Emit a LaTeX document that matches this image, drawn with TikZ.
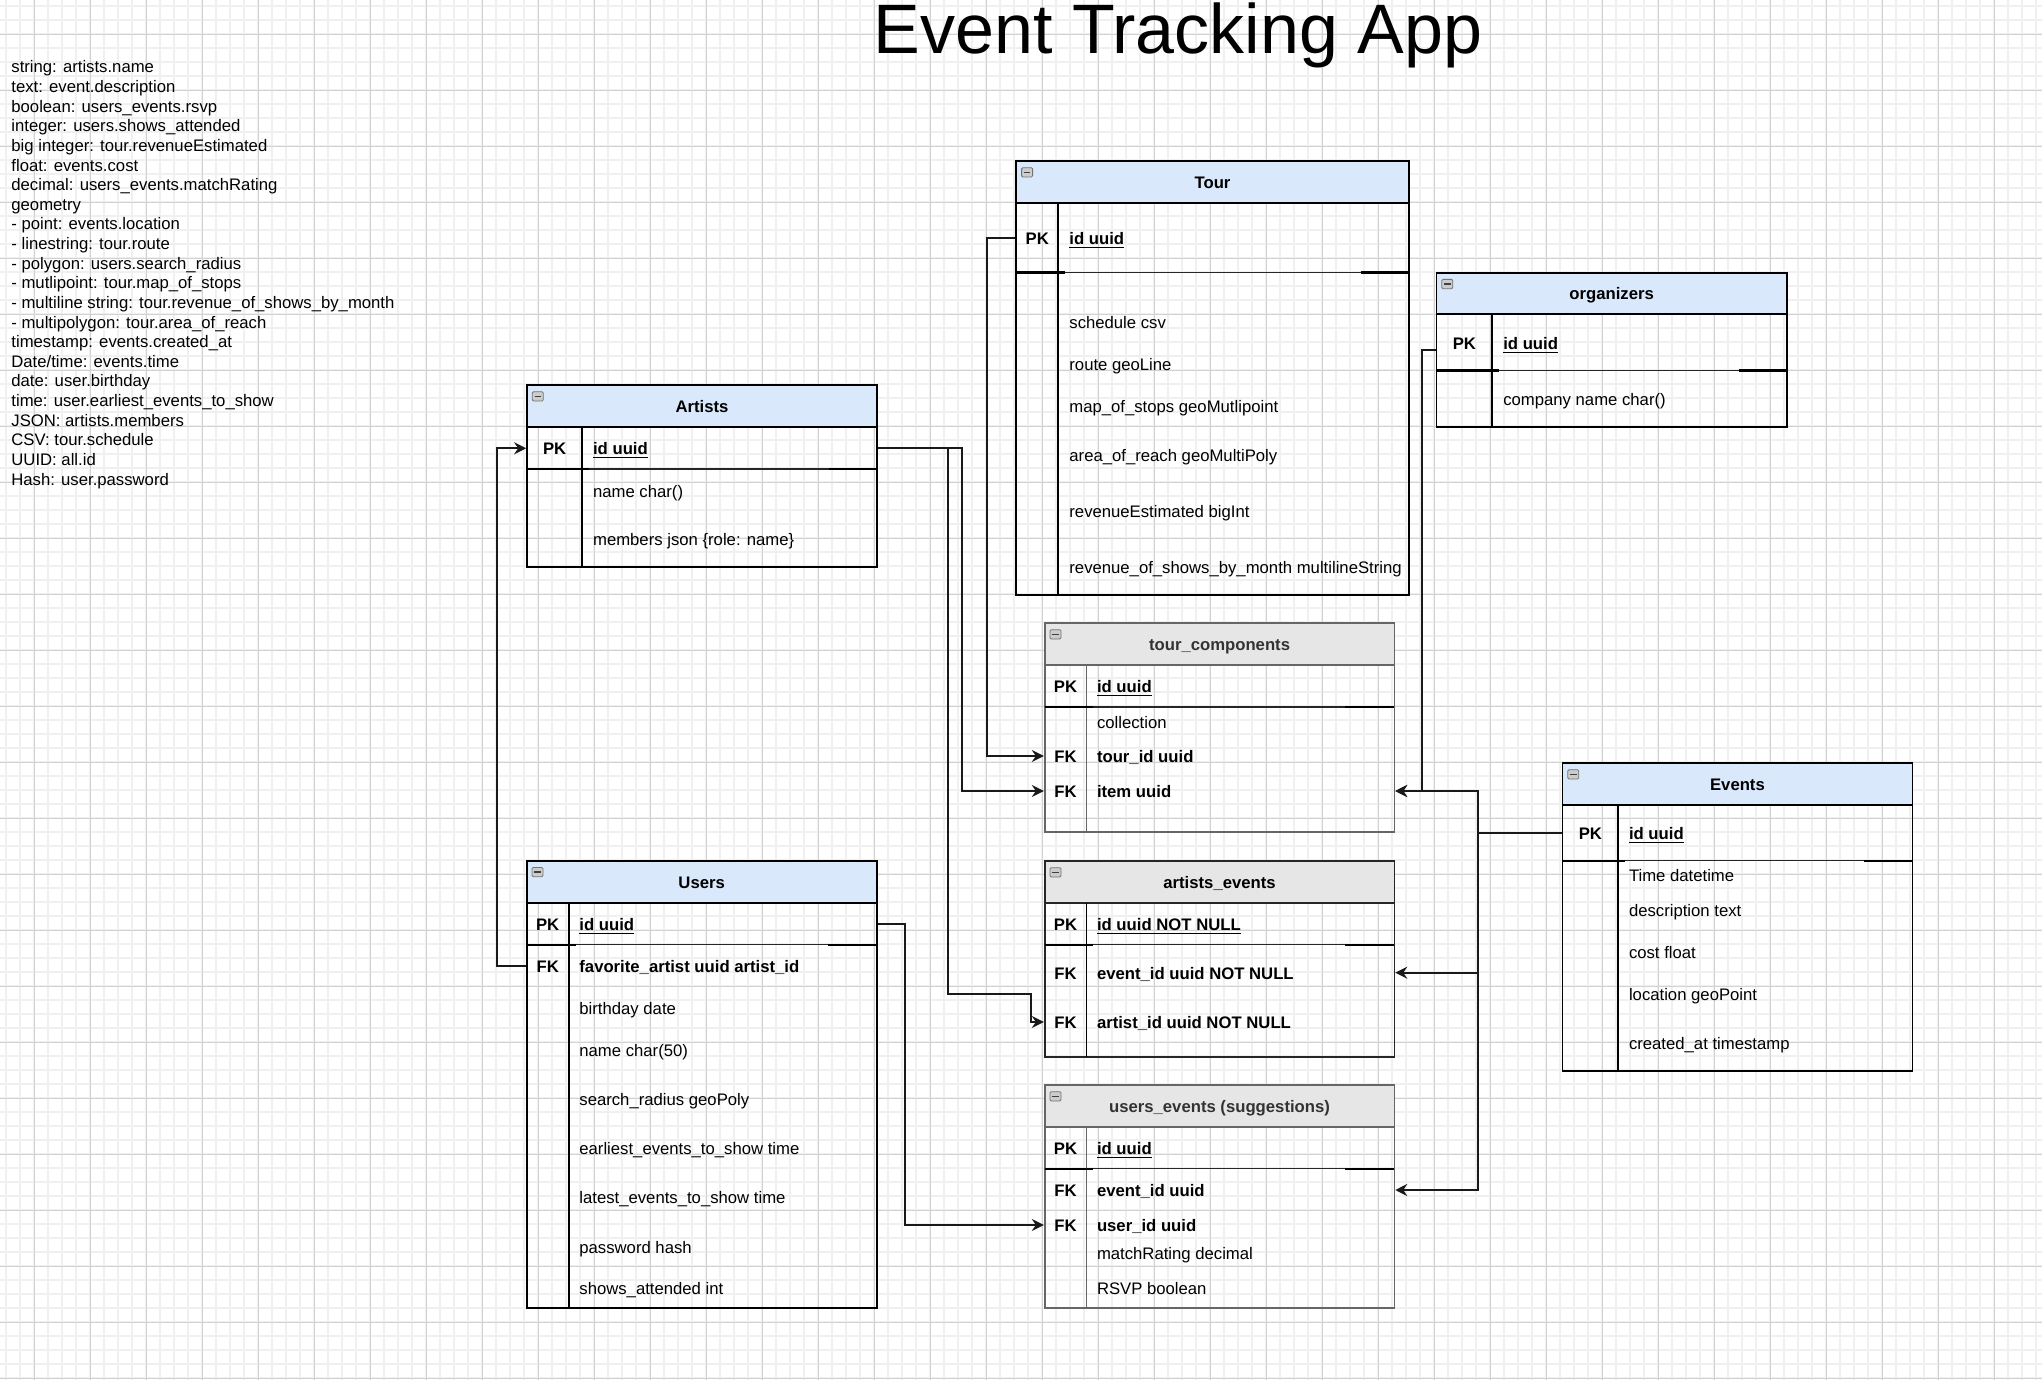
\documentclass[tikz,border=0pt]{standalone}
\usepackage{fontspec}
\setmainfont{Liberation Sans}
\usetikzlibrary{arrows.meta,calc,fit}

\definecolor{gridminor}{HTML}{F0F0F0}
\definecolor{gridmajor}{HTML}{D2D2D2}
\definecolor{headblue}{HTML}{DAE8FC}
\definecolor{headgray}{HTML}{E6E6E6}

\tikzset{
  collapse/.pic={
    \draw[draw=black!55, fill=black!20, rounded corners=0.6pt, line width=0.4pt] (5.3,6.7) rectangle (16.3,16);
    \draw[black!75, line width=0.8pt] (7.6,11.4) -- (14,11.4);
  }
}

\begin{document}
\begin{tikzpicture}[x=0.5pt, y=-0.5pt,
  every node/.style={inner sep=0pt, font=\fontsize{8.35}{10}\selectfont},
  tbl/.style={draw=black, line width=0.85pt},
  tblgray/.style={draw=black!60, line width=0.85pt},
  head/.style={draw=black, line width=0.85pt, fill=headblue},
  headgray/.style={draw=black!60, line width=0.85pt, fill=headgray},
  caption/.style={font=\fontsize{8.35}{10}\selectfont\bfseries, text height=7.2pt, text depth=0.8pt},
  captiongray/.style={caption, text=black!80},
  keycol/.style={line width=0.85pt},
  pksep/.style={line width=0.7pt, black!85},
  pkend/.style={line width=1.2pt},
  key/.style={font=\fontsize{8.35}{10}\selectfont\bfseries, text height=7.2pt, text depth=0.8pt},
  field/.style={anchor=west, text height=7.2pt, text depth=0.8pt},
  fkfield/.style={field, font=\fontsize{8.35}{10}\selectfont\bfseries},
  legend/.style={anchor=base west},
  rel/.style={draw=black!90, line width=1pt, -{Stealth[length=6pt, width=6pt, inset=2pt]}}]

  % canvas and grid
  \useasboundingbox[fill=white] (0,0) rectangle (2042,1380);
  \draw[gridminor, line width=0.9pt] \foreach \gx in {6.3,20.3,...,2042} {(\gx,0) -- (\gx,1380)};
  \draw[gridminor, line width=0.9pt] \foreach \gy in {6.3,20.3,...,1380} {(0,\gy) -- (2042,\gy)};
  \draw[gridmajor, line width=0.5pt] \foreach \gx in {34.3,90.3,...,2042} {(\gx,0) -- (\gx,1380)};
  \draw[gridmajor, line width=0.5pt] \foreach \gy in {34.3,90.3,...,1380} {(0,\gy) -- (2042,\gy)};

  \node[font=\fontsize{35}{40}\selectfont, anchor=base] (title) at (1178,53.3) {Event Tracking App};

  % data type legend
  \foreach \entry [count=\i] in {string: artists.name, text: event.description,
      boolean: users\_events.rsvp, integer: users.shows\_attended,
      big integer: tour.revenueEstimated, float: events.cost,
      decimal: users\_events.matchRating, geometry,
      - point: events.location, - linestring: tour.route,
      - polygon: users.search\_radius, - mutlipoint: tour.map\_of\_stops,
      - multiline string: tour.revenue\_of\_shows\_by\_month,
      - multipolygon: tour.area\_of\_reach, timestamp: events.created\_at,
      Date/time: events.time, date: user.birthday,
      time: user.earliest\_events\_to\_show, JSON: artists.members,
      CSV: tour.schedule, UUID: all.id, Hash: user.password}
    \node[legend] (legend-\i) at (11,{73+19.62*(\i-1)}) {\entry};

  % Artists
  \node[tbl, fit={(527,385) (877,566.7)}] (artists) {};
  \node[head, fit={(527,385) (877,426.7)}] (artists-head) {};
  \node[caption] (artists-cap) at (artists-head) {Artists};
  \pic at (527,385) {collapse};
  \draw[keycol] (582.3,426.7) -- (582.3,566.7);
  \draw[pksep] (527,469) -- (877,469);
  \draw[pkend] (527,469) -- (589.3,469) (829,469) -- (877,469);
  \node[key] (artists-pk) at (554.7,448.3) {PK};
  \node[fkfield] (artists-id) at (592.7,448.3) {\underline{id uuid}};
  \node[field] (artists-name) at (592.7,490.7) {name char()};
  \node[field] (artists-members) at (592.7,539.3) {members json \{role: name\}};

  % Tour
  \node[tbl, fit={(1016.3,161) (1408.7,595)}] (tour) {};
  \node[head, fit={(1016.3,161) (1408.7,202.7)}] (tour-head) {};
  \node[caption] (tour-cap) at (tour-head) {Tour};
  \pic at (1016.3,161) {collapse};
  \draw[keycol] (1058.3,202.7) -- (1058.3,595);
  \draw[pksep] (1016.3,272.7) -- (1408.7,272.7);
  \draw[pkend] (1016.3,272.7) -- (1065.3,272.7) (1360.7,272.7) -- (1408.7,272.7);
  \node[key] (tour-pk) at (1037.3,238.3) {PK};
  \node[fkfield] (tour-id) at (1069,238.3) {\underline{id uuid}};
  \node[field] (tour-schedule) at (1069,322.3) {schedule csv};
  \node[field] (tour-route) at (1069,364.3) {route geoLine};
  \node[field] (tour-stops) at (1069,406.3) {map\_of\_stops geoMutlipoint};
  \node[field] (tour-reach) at (1069,455.3) {area\_of\_reach geoMultiPoly};
  \node[field] (tour-revenue) at (1069,511.3) {revenueEstimated bigInt};
  \node[field] (tour-monthly) at (1069,567.3) {revenue\_of\_shows\_by\_month multilineString};

  % organizers
  \node[tbl, fit={(1436.5,272.7) (1786.7,426.7)}] (orgs) {};
  \node[head, fit={(1436.5,272.7) (1786.7,314.3)}] (orgs-head) {};
  \node[caption] (orgs-cap) at (orgs-head) {organizers};
  \pic at (1436.5,272.7) {collapse};
  \draw[keycol] (1492.3,314.3) -- (1492.3,426.7);
  \draw[pksep] (1436.5,370.7) -- (1786.7,370.7);
  \draw[pkend] (1436.5,370.7) -- (1499.3,370.7) (1738.7,370.7) -- (1786.7,370.7);
  \node[key] (orgs-pk) at (1464.4,343.3) {PK};
  \node[fkfield] (orgs-id) at (1502.9,343.3) {\underline{id uuid}};
  \node[field] (orgs-company) at (1502.9,399.3) {company name char()};

  % tour_components
  \node[tblgray, fit={(1044.7,623) (1394.4,832.3)}] (tc) {};
  \node[headgray, fit={(1044.7,623) (1394.4,664.7)}] (tc-head) {};
  \node[captiongray] (tc-cap) at (tc-head) {tour\_components};
  \pic at (1044.7,623) {collapse};
  \draw[keycol, black!60] (1086.4,664.7) -- (1086.4,832.3);
  \draw[pksep] (1044.7,707) -- (1394.4,707);
  \draw[pkend] (1044.7,707) -- (1093.4,707) (1345.4,707) -- (1394.4,707);
  \node[key] (tc-pk) at (1065.5,686.3) {PK};
  \node[fkfield] (tc-id) at (1096.6,686.3) {\underline{id uuid}};
  \node[field] (tc-collection) at (1096.6,721.7) {collection};
  \node[key] (tc-fk1) at (1065.5,756) {FK};
  \node[fkfield] (tc-tour) at (1096.6,756) {tour\_id uuid};
  \node[key] (tc-fk2) at (1065.5,791) {FK};
  \node[fkfield] (tc-item) at (1096.6,791) {item uuid};

  % artists_events
  \node[tbl, draw=black!85, fit={(1044.7,861) (1394.4,1056.7)}] (ae) {};
  \node[headgray, draw=black!85, fit={(1044.7,861) (1394.4,902.7)}] (ae-head) {};
  \node[caption] (ae-cap) at (ae-head) {artists\_events};
  \pic at (1044.7,861) {collapse};
  \draw[keycol] (1086.4,902.7) -- (1086.4,1056.7);
  \draw[pksep] (1044.7,944.7) -- (1394.4,944.7);
  \draw[pkend] (1044.7,944.7) -- (1093.4,944.7) (1345.4,944.7) -- (1394.4,944.7);
  \node[key] (ae-pk) at (1065.5,924.3) {PK};
  \node[fkfield] (ae-id) at (1096.6,924.3) {\underline{id uuid NOT NULL}};
  \node[key] (ae-fk1) at (1065.5,972.7) {FK};
  \node[fkfield] (ae-event) at (1096.6,972.7) {event\_id uuid NOT NULL};
  \node[key] (ae-fk2) at (1065.5,1022) {FK};
  \node[fkfield] (ae-artist) at (1096.6,1022) {artist\_id uuid NOT NULL};

  % users_events
  \node[tblgray, fit={(1044.7,1085) (1394.4,1308.3)}] (ue) {};
  \node[headgray, fit={(1044.7,1085) (1394.4,1126.7)}] (ue-head) {};
  \node[captiongray] (ue-cap) at (ue-head) {users\_events (suggestions)};
  \pic at (1044.7,1085) {collapse};
  \draw[keycol, black!60] (1086.4,1126.7) -- (1086.4,1308.3);
  \draw[pksep] (1044.7,1168.7) -- (1394.4,1168.7);
  \draw[pkend] (1044.7,1168.7) -- (1093.4,1168.7) (1345.4,1168.7) -- (1394.4,1168.7);
  \node[key] (ue-pk) at (1065.5,1148.3) {PK};
  \node[fkfield] (ue-id) at (1096.6,1148.3) {\underline{id uuid}};
  \node[key] (ue-fk1) at (1065.5,1190) {FK};
  \node[fkfield] (ue-event) at (1096.6,1190) {event\_id uuid};
  \node[key] (ue-fk2) at (1065.5,1225) {FK};
  \node[fkfield] (ue-user) at (1096.6,1225) {user\_id uuid};
  \node[field] (ue-rating) at (1096.6,1253.3) {matchRating decimal};
  \node[field] (ue-rsvp) at (1096.6,1288.3) {RSVP boolean};

  % Users
  \node[tbl, fit={(526.7,860.7) (876.7,1308.3)}] (users) {};
  \node[head, fit={(526.7,860.7) (876.7,902.7)}] (users-head) {};
  \node[caption] (users-cap) at (users-head) {Users};
  \pic at (526.7,860.7) {collapse};
  \draw[keycol] (568.7,902.7) -- (568.7,1308.3);
  \draw[pksep] (526.7,944.7) -- (876.7,944.7);
  \draw[pkend] (526.7,944.7) -- (575.7,944.7) (827.7,944.7) -- (876.7,944.7);
  \node[key] (users-pk) at (547.7,924) {PK};
  \node[fkfield] (users-id) at (579,924) {\underline{id uuid}};
  \node[key] (users-fk) at (547.7,966) {FK};
  \node[fkfield] (users-fav) at (579,966) {favorite\_artist uuid artist\_id};
  \node[field] (users-birthday) at (579,1008.3) {birthday date};
  \node[field] (users-name) at (579,1050.3) {name char(50)};
  \node[field] (users-radius) at (579,1099.3) {search\_radius geoPoly};
  \node[field] (users-earliest) at (579,1148.3) {earliest\_events\_to\_show time};
  \node[field] (users-latest) at (579,1197.3) {latest\_events\_to\_show time};
  \node[field] (users-password) at (579,1246.7) {password hash};
  \node[field] (users-shows) at (579,1288.3) {shows\_attended int};

  % Events
  \node[tbl, fit={(1562.5,763) (1912.4,1070.7)}] (events) {};
  \node[head, fit={(1562.5,763) (1912.4,804.7)}] (events-head) {};
  \node[caption] (events-cap) at (events-head) {Events};
  \pic at (1562.5,763) {collapse};
  \draw[keycol] (1618.3,804.7) -- (1618.3,1070.7);
  \draw[pksep] (1562.5,860.7) -- (1912.4,860.7);
  \draw[pkend] (1562.5,860.7) -- (1625.3,860.7) (1864.4,860.7) -- (1912.4,860.7);
  \node[key] (events-pk) at (1590.4,832.7) {PK};
  \node[fkfield] (events-id) at (1628.6,832.7) {\underline{id uuid}};
  \node[field] (events-time) at (1628.6,875) {Time datetime};
  \node[field] (events-desc) at (1628.6,910.3) {description text};
  \node[field] (events-cost) at (1628.6,952.3) {cost float};
  \node[field] (events-location) at (1628.6,994.3) {location geoPoint};
  \node[field] (events-created) at (1628.6,1043.3) {created\_at timestamp};

  % relations
  \draw[rel] (users-fk -| users.west) -- ++(-28.4,0) |- (artists-pk -| artists.west);
  \draw[rel] (artists-pk -| artists.east) -- ++(69.7,0) |- (1030.7,994) |- (ae-artist -| ae.west);
  \draw[rel] (artists-pk -| artists.east) -- ++(83.7,0) |- (tc-item -| tc.west);
  \draw[rel] (tour-pk -| tour.west) -- ++(-28,0) |- (tc-tour -| tc.west);
  \draw[rel] ($(orgs-pk -| orgs.west)+(0,6.4)$) -- ++(-14.1,0) |- (tc-item -| tc.east);
  \draw[rel] (events-pk -| events.west) -- ++(-83.8,0) |- (tc-item -| tc.east);
  \draw[rel] (events-pk -| events.west) -- ++(-83.8,0) |- (ae-event -| ae.east);
  \draw[rel] (events-pk -| events.west) -- ++(-83.8,0) |- (ue-event -| ue.east);
  \draw[rel] (users-pk -| users.east) -- ++(27.6,0) |- (ue-user -| ue.west);
\end{tikzpicture}
\end{document}
